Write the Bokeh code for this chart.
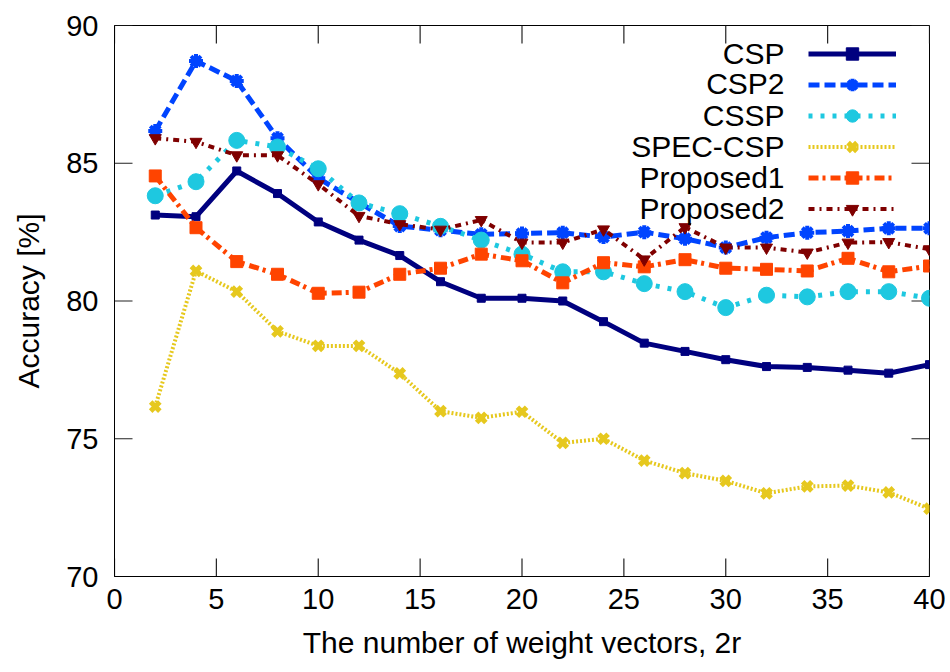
from bokeh.plotting import figure
from bokeh.models import Range1d, FixedTicker, Legend, LegendItem, Label
from bokeh.embed import file_html
from bokeh.resources import INLINE

x = [2, 4, 6, 8, 10, 12, 14, 16, 18, 20, 22, 24, 26, 28, 30, 32, 34, 36, 38, 40]

csp = [83.12, 83.06, 84.72, 83.90, 82.87, 82.21, 81.65, 80.70, 80.10, 80.10,
       80.00, 79.25, 78.47, 78.17, 77.87, 77.62, 77.59, 77.49, 77.38, 77.69]
csp2 = [86.17, 88.71, 87.99, 85.91, 84.46, 83.57, 82.72, 82.57, 82.42, 82.45,
        82.48, 82.32, 82.50, 82.26, 81.94, 82.30, 82.48, 82.54, 82.64, 82.64]
cssp = [83.82, 84.33, 85.83, 85.59, 84.80, 83.56, 83.17, 82.71, 82.21, 81.70,
        81.06, 81.06, 80.63, 80.34, 79.76, 80.21, 80.15, 80.34, 80.34, 80.10]
spec_csp = [76.17, 81.09, 80.34, 78.90, 78.37, 78.37, 77.37, 76.00, 75.76, 75.98,
            74.85, 75.00, 74.21, 73.75, 73.47, 73.02, 73.27, 73.30, 73.05, 72.46]
proposed1 = [84.54, 82.66, 81.43, 80.97, 80.28, 80.32, 80.97, 81.19, 81.70, 81.46,
             80.66, 81.39, 81.24, 81.50, 81.19, 81.15, 81.09, 81.55, 81.06, 81.27]
proposed2 = [85.91, 85.78, 85.29, 85.29, 84.24, 83.09, 82.79, 82.59, 82.94, 82.12,
             82.12, 82.60, 81.51, 82.68, 81.94, 81.94, 81.76, 82.12, 82.14, 81.88]

names = ["CSP", "CSP2", "CSSP", "SPEC-CSP", "Proposed1", "Proposed2"]
series = [csp, csp2, cssp, spec_csp, proposed1, proposed2]

x_ticks = [0, 5, 10, 15, 20, 25, 30, 35, 40]
y_ticks = [70, 75, 80, 85, 90]
X_MIN, X_MAX, Y_MIN, Y_MAX = 0, 40, 70, 90

colors = ["#00007f", "#0044ff", "#1ec8e0", "#e6c81e", "#ff4400", "#7f0000"]
dashes = ["solid", "11 5", "4 8", "2 2", "10 4 3 5", "6 5 2 5"]
line_widths = [5, 5, 5, 4, 5, 4]
markers = ["square", "asterisk", "circle", "x", "square", "inverted_triangle"]
msizes = [8, 14, 16, 13, 12, 12]
mlw = [1, 4, 1, 5, 1, 1]

FONT = "Liberation Sans"
W, H = 950, 672
BL, BR, BT, BB = 114, 21, 25, 96
TICK = 18  # px

p = figure(width=W, height=H, output_backend="svg", toolbar_location=None,
           x_range=Range1d(X_MIN, X_MAX), y_range=Range1d(Y_MIN, Y_MAX),
           min_border_left=BL, min_border_right=BR, min_border_top=BT, min_border_bottom=BB)
p.background_fill_color = "white"
p.border_fill_color = "white"
p.outline_line_color = "black"
p.outline_line_width = 1
p.xgrid.visible = False
p.ygrid.visible = False

for ax in (p.xaxis[0], p.yaxis[0]):
    ax.major_tick_in = 0
    ax.major_tick_out = 0
    ax.minor_tick_line_color = None
    ax.axis_line_color = "black"
    ax.major_label_text_font = FONT
    ax.major_label_text_color = "black"
    ax.major_label_text_font_size = "29px"
    ax.axis_label_text_font = FONT
    ax.axis_label_text_font_style = "normal"
    ax.axis_label_text_color = "black"
    ax.axis_label_text_font_size = "30px"

p.xaxis.ticker = FixedTicker(ticks=x_ticks)
p.yaxis.ticker = FixedTicker(ticks=y_ticks)
p.xaxis.axis_label = "The number of weight vectors, 2r"
p.yaxis.axis_label = "Accuracy [%]"
p.xaxis.major_label_standoff = 12
p.yaxis.major_label_standoff = 16
p.xaxis.axis_label_standoff = 14
p.yaxis.axis_label_standoff = 18

# inward tick marks on all four sides, derived from the tick lists
frame_w = W - BL - BR
frame_h = H - BT - BB
tx = TICK * (X_MAX - X_MIN) / frame_w
ty = TICK * (Y_MAX - Y_MIN) / frame_h
xs_b = [[t, t] for t in x_ticks]
ys_b = [[Y_MIN, Y_MIN + ty] for t in x_ticks]
ys_t = [[Y_MAX, Y_MAX - ty] for t in x_ticks]
xs_l = [[X_MIN, X_MIN + tx] for t in y_ticks]
xs_r = [[X_MAX, X_MAX - tx] for t in y_ticks]
ys_lr = [[t, t] for t in y_ticks]
p.multi_line(xs=xs_b + xs_b + xs_l + xs_r, ys=ys_b + ys_t + ys_lr + ys_lr,
             line_color="#222222", line_width=1.2)

items = []
for name, ys, c, d, lw, mk, ms, mw in zip(names, series, colors, dashes, line_widths, markers, msizes, mlw):
    r1 = p.line(x, ys, line_color=c, line_width=lw, line_dash=d)
    r2 = p.scatter(x, ys, marker=mk, size=ms, fill_color=c, line_color=c, line_width=mw)
    items.append(LegendItem(label=" ", renderers=[r1, r2]))

leg = Legend(items=items, location="top_right", glyph_width=88, glyph_height=31,
             label_width=0, label_height=31, label_standoff=20, spacing=0,
             padding=0, margin=13, label_text_font=FONT, label_text_font_size="12px",
             border_line_color=None, background_fill_alpha=0)
p.add_layout(leg, "center")

row_y = [53, 83, 115, 146, 177, 208]
for name, ry in zip(names, row_y):
    p.add_layout(Label(x=784 - BL, y=(H - BB) - ry, x_units="screen", y_units="screen",
                       text=name, text_align="right", text_baseline="middle",
                       text_font=FONT, text_font_size="30px", text_color="black"))

open("out.html", "w").write(file_html(p, INLINE))
